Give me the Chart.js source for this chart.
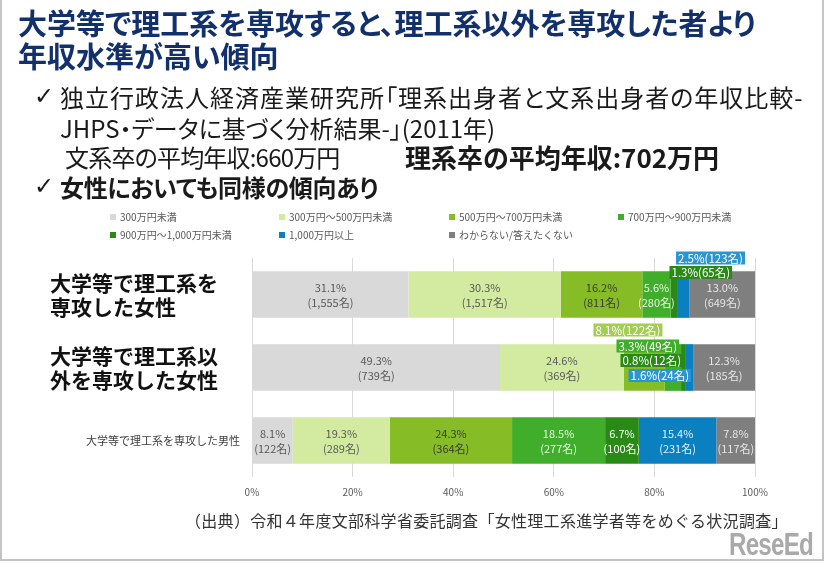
<!DOCTYPE html>
<html lang="ja">
<head>
<meta charset="utf-8">
<title>理工系専攻と年収</title>
<script src="https://cdn.jsdelivr.net/npm/chart.js@4.4.0/dist/chart.umd.min.js"></script>
<style>
  html, body { margin: 0; padding: 0; background: #fff; }
  body { width: 826px; height: 563px; position: relative; overflow: hidden;
         font-family: "Noto Sans CJK JP", "Noto Sans", sans-serif; }
  #frame { position: absolute; left: 0; top: 0; width: 820px; height: 559px;
           border: 2px solid #c4c4c4; border-top: none; box-sizing: content-box; }
  #chartCanvas { position: absolute; left: 0; top: 0; }
  .t { position: absolute; white-space: nowrap; line-height: 1; font-feature-settings: "palt"; }
  .title { left: 18px; font-size: 29px; font-weight: bold; color: #12306c; }
  .body { font-size: 24px; color: #1a1a1a; }
  .check { font-family: "DejaVu Sans", sans-serif; font-size: 24px; color: #1a1a1a; left: 34px; }
  #legend { position: absolute; left: 0; top: 0; font-size: 10px; color: #595959; }
  .lg { position: absolute; white-space: nowrap; line-height: 12px; }
  .lg i { display: inline-block; width: 6px; height: 6px; margin-right: 4px; vertical-align: 1px; }
  .source { left: 185px; top: 512px; font-size: 16px; color: #333; font-feature-settings: normal; letter-spacing: 0.3px; }
  .logo { left: 729px; top: 529px; font-family: "Liberation Sans", sans-serif;
          font-weight: bold; font-size: 31px; color: #a9a9a9; letter-spacing: -1px;
          transform: scaleX(0.78); transform-origin: left top; }
  .logo small { position: absolute; left: 30px; top: -6px; font-size: 7px; letter-spacing: 0; font-weight: normal;
                font-family: "Noto Sans CJK JP", sans-serif; }
</style>
</head>
<body>
<div id="frame"></div>
<canvas id="chartCanvas" width="826" height="563"></canvas>

<div class="t title" style="top:8px;">大学等で理工系を専攻すると、理工系以外を専攻した者より</div>
<div class="t title" style="top:41px;">年収水準が高い傾向</div>

<div class="t check" style="top:84px;">✓</div>
<div class="t body" style="left:60px; top:85px; letter-spacing:1px;">独立行政法人経済産業研究所「理系出身者と文系出身者の年収比較-</div>
<div class="t body" style="left:60px; top:116px;">JHPS・データに基づく分析結果-」(2011年)</div>
<div class="t body" style="left:65px; top:145px; letter-spacing:-0.8px;">文系卒の平均年収:660万円</div>
<div class="t body" style="left:405px; top:144px; font-weight:bold; font-size:26px;">理系卒の平均年収:702万円</div>
<div class="t check" style="top:174px;">✓</div>
<div class="t body" style="left:60px; top:175px; font-weight:bold; letter-spacing:-0.3px;">女性においても同様の傾向あり</div>

<div id="legend"></div>

<div class="t source">（出典）令和４年度文部科学省委託調査「女性理工系進学者等をめぐる状況調査」</div>
<div class="t logo"><small>リシード</small>ReseEd</div>

<script>
// categories (rows)
var groupLabels = [
  ["大学等で理工系を", "専攻した女性"],
  ["大学等で理工系以", "外を専攻した女性"],
  ["大学等で理工系を専攻した男性"]
];

// income bands (series)
var incomeBands = [
  "300万円未満",
  "300万円～500万円未満",
  "500万円～700万円未満",
  "700万円～900万円未満",
  "900万円～1,000万円未満",
  "1,000万円以上",
  "わからない/答えたくない"
];

// shares (%) per row, in band order
var womenStemPct  = [31.1, 30.3, 16.2, 5.6, 1.3, 2.5, 13.0];
var womenOtherPct = [49.3, 24.6, 8.1, 3.3, 0.8, 1.6, 12.3];
var menStemPct    = [8.1, 19.3, 24.3, 18.5, 6.7, 15.4, 7.8];

// respondents per row, in band order
var womenStemCount  = [1555, 1517, 811, 280, 65, 123, 649];
var womenOtherCount = [739, 369, 122, 49, 12, 24, 185];
var menStemCount    = [122, 289, 364, 277, 100, 231, 117];

// x axis ticks
var xTickValues = [0, 20, 40, 60, 80, 100];

var rowPct = [womenStemPct, womenOtherPct, menStemPct];
var rowCount = [womenStemCount, womenOtherCount, menStemCount];

// styles
var bandColors = ["#d9d9d9", "#d3eba1", "#86bc25", "#40ae2b", "#2a8a16", "#0b80c0", "#7f7f7f"];
var bandTextColors = ["#595959", "#595959", "#3a3a3a", "#eaf6e4", "#ffffff", "#e3f0f9", "#e6e6e6"];
var calloutColors = ["#d9d9d9", "#d3eba1", "#a3cd53", "#40ae2b", "#2a8a16", "#2b95d2", "#7f7f7f"];
var FONT = "'Noto Sans CJK JP', 'Noto Sans', sans-serif";

// small segments get a boxed label above the bar
var callouts = [
  { row: 0, band: 4, align: "left", dy: -22 },
  { row: 0, band: 5, align: "left", dy: -36.5 },
  { row: 1, band: 2, align: "right", dy: -37.5 },
  { row: 1, band: 3, align: "right", dy: -21.5 },
  { row: 1, band: 4, align: "right", dy: -7 },
  { row: 1, band: 5, align: "right", dy: 8 }
];

// legend (fixed columns like the original)
var legendCols = [110, 279, 449, 618];
var legendEl = document.getElementById("legend");
incomeBands.forEach(function(name, i) {
  var d = document.createElement("div");
  d.className = "lg";
  d.style.left = legendCols[i % 4] + "px";
  d.style.top = (i < 4 ? 211 : 229) + "px";
  d.innerHTML = '<i style="background:' + bandColors[i] + '"></i>' + name;
  legendEl.appendChild(d);
});

function fmt(n) { return n.toLocaleString("en-US"); }

function findCallout(row, band) {
  for (var k = 0; k < callouts.length; k++) {
    if (callouts[k].row === row && callouts[k].band === band) return callouts[k];
  }
  return null;
}

var labelPlugin = {
  id: "barLabels",
  afterDatasetsDraw: function(chart) {
    var c = chart.ctx;
    c.save();
    c.textBaseline = "middle";

    chart.data.datasets.forEach(function(ds, band) {
      var meta = chart.getDatasetMeta(band);
      meta.data.forEach(function(bar, row) {
        var pct = rowPct[row][band];
        var cnt = rowCount[row][band];
        var co = findCallout(row, band);
        var props = bar.getProps(["x", "y", "base"], true);
        var x0 = Math.min(props.x, props.base), x1 = Math.max(props.x, props.base);
        if (co) {
          var txt = pct.toFixed(1) + "%(" + fmt(cnt) + "名)";
          c.font = "11.5px " + FONT;
          var w = c.measureText(txt).width + 4;
          var h = 13;
          var left = co.align === "left" ? x0 - 1 : x1 - w - 2;
          var top = props.y + co.dy - h / 2;
          c.fillStyle = calloutColors[band];
          c.fillRect(left, top, w, h);
          c.fillStyle = "#ffffff";
          c.textAlign = "left";
          c.fillText(txt, left + 2, top + h / 2 + 0.5);
        } else {
          var cx = (x0 + x1) / 2;
          c.font = "11px " + FONT;
          c.fillStyle = bandTextColors[band];
          c.textAlign = "center";
          c.fillText(pct.toFixed(1) + "%", cx, props.y - 7);
          c.fillText("(" + fmt(cnt) + "名)", cx, props.y + 8);
        }
      });
    });

    // row labels
    var ys = chart.scales.y;
    groupLabels.forEach(function(lines, row) {
      var y = ys.getPixelForValue(row);
      if (lines.length > 1) {
        c.font = "bold 21px " + FONT;
        c.fillStyle = "#111111";
        c.textAlign = "left";
        c.fillText(lines[0], 50, y - 11);
        c.fillText(lines[1], 50, y + 13);
      } else {
        c.font = "11px " + FONT;
        c.fillStyle = "#404040";
        c.textAlign = "right";
        c.fillText(lines[0], 240, y);
      }
    });
    c.restore();
  }
};

var ctx = document.getElementById("chartCanvas").getContext("2d");
new Chart(ctx, {
  type: "bar",
  data: {
    labels: groupLabels,
    datasets: incomeBands.map(function(name, i) {
      return {
        label: name,
        data: rowPct.map(function(r) { return r[i]; }),
        backgroundColor: bandColors[i],
        borderWidth: 0,
        barPercentage: 0.64,
        categoryPercentage: 1
      };
    })
  },
  options: {
    indexAxis: "y",
    responsive: false,
    animation: false,
    layout: { padding: { left: 252, right: 71, top: 258, bottom: 56 } },
    plugins: { legend: { display: false }, tooltip: { enabled: false } },
    scales: {
      x: {
        stacked: true,
        min: 0,
        max: 100,
        afterBuildTicks: function(axis) {
          axis.ticks = xTickValues.map(function(v) { return { value: v }; });
        },
        ticks: {
          callback: function(v) { return v + "%"; },
          color: "#595959",
          font: { size: 10, family: FONT },
          padding: 9,
          maxRotation: 0
        },
        grid: { color: "#d9d9d9", drawTicks: false },
        border: { display: false }
      },
      y: { stacked: true, display: false }
    }
  },
  plugins: [labelPlugin]
});
</script>
</body>
</html>
